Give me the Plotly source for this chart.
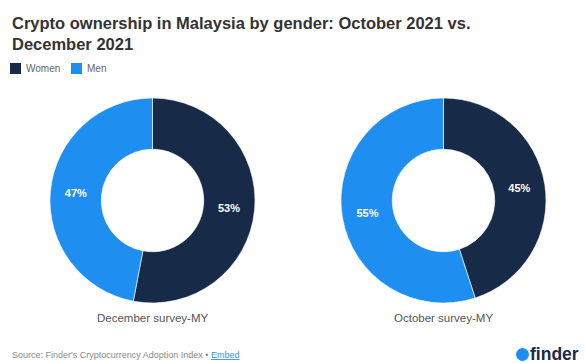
import plotly.graph_objects as go

# Survey results: share of crypto owners by gender
genders = ["Women", "Men"]
december_share = [53, 47]
october_share = [45, 55]
survey_names = ["December survey-MY", "October survey-MY"]

NAVY = "#172b49"
BLUE = "#1e8ef0"
W, H = 585, 363


def px(x):
    return x / W


def py(y):
    return 1 - y / H


fig = go.Figure()

pie_boxes = [(47, 258), (338, 549)]
for share, name, (x0, x1) in zip([december_share, october_share], survey_names, pie_boxes):
    fig.add_trace(go.Pie(
        labels=genders,
        values=share,
        name=name,
        hole=0.5,
        sort=False,
        direction="clockwise",
        rotation=0,
        marker=dict(colors=[NAVY, BLUE], line=dict(color="#ffffff", width=0.6)),
        texttemplate="<b>%{value}%</b>",
        textposition="inside",
        insidetextorientation="horizontal",
        textfont=dict(family="Liberation Sans", size=11, color="#ffffff"),
        domain=dict(x=[px(x0), px(x1)], y=[py(303), py(98)]),
        showlegend=False,
        hoverinfo="label+percent",
    ))
    fig.add_annotation(
        x=px((x0 + x1) / 2), y=py(318), xref="paper", yref="paper",
        text=name, showarrow=False, xanchor="center", yanchor="middle",
        font=dict(family="Liberation Sans", size=11.5, color="#555555"),
    )

# Title
fig.add_annotation(
    x=px(10), y=py(12), xref="paper", yref="paper", xanchor="left", yanchor="top",
    align="left", showarrow=False,
    text="<b>Crypto ownership in Malaysia by gender: October 2021 vs.<br>December 2021</b>",
    font=dict(family="Liberation Sans", size=16.5, color="#333333"),
)

# Legend
legend_items = [(10, "Women", NAVY), (71, "Men", BLUE)]
for x, label, color in legend_items:
    fig.add_shape(type="rect", xref="paper", yref="paper",
                  x0=px(x), x1=px(x + 11), y0=py(74), y1=py(63),
                  fillcolor=color, line=dict(width=0))
    fig.add_annotation(x=px(x + 14), y=py(68.5), xref="paper", yref="paper",
                       xanchor="left", yanchor="middle", showarrow=False, text=label,
                       font=dict(family="Liberation Sans", size=10, color="#666666"))

# Source line
fig.add_annotation(
    x=px(10), y=py(355), xref="paper", yref="paper", xanchor="left", yanchor="middle",
    showarrow=False,
    text="Source: Finder's Cryptocurrency Adoption Index • <span style='color:#3a8fd9'><u>Embed</u></span>",
    font=dict(family="Liberation Sans", size=9, color="#8a8a8a"),
)

# Brand mark
fig.add_shape(type="circle", xref="paper", yref="paper",
              x0=px(516), x1=px(529), y0=py(361), y1=py(348),
              fillcolor=BLUE, line=dict(width=0))
fig.add_annotation(
    x=px(528), y=py(354), xref="paper", yref="paper", xanchor="left", yanchor="middle",
    showarrow=False, text="<b>finder</b>",
    font=dict(family="Liberation Sans", size=17.5, color=NAVY),
)

fig.update_layout(
    width=W, height=H,
    margin=dict(l=0, r=0, t=0, b=0),
    paper_bgcolor="#ffffff",
    plot_bgcolor="#ffffff",
)

fig.write_html("out.html")
